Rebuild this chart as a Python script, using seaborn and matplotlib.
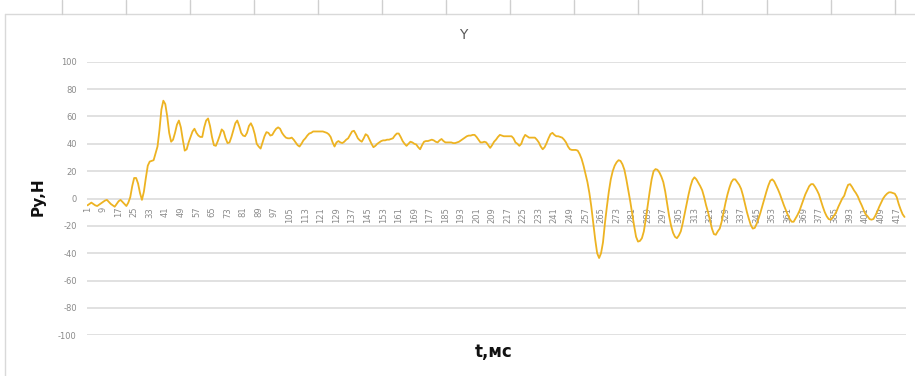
import matplotlib
matplotlib.use("Agg")
import matplotlib.pyplot as plt
from matplotlib.lines import Line2D
import pandas as pd
import seaborn as sns

# Lateral force Py (N) sampled every millisecond
py_values = [
    -5, -4, -3, -4, -5, -5.5, -4.5, -3.5, -2.5, -1.5,
    -1, -2.5, -4, -5, -6, -4, -2, -1, -2.5, -4,
    -5.5, -3, 1, 9, 15, 15, 11, 4, -1, 5,
    15, 24, 27, 27.5, 28, 33, 38, 50, 65, 71.5,
    69, 60, 48, 41.5, 43, 48, 54, 57, 52, 43,
    35, 36, 41, 45, 49, 51, 48, 46, 45, 45,
    52, 57, 58.5, 53, 45, 39, 38.5, 42, 46, 50.5,
    49, 44, 40.5, 41, 45, 50, 55, 57, 53, 48,
    46, 45.5, 48, 53, 55, 52, 47, 40, 38, 36.5,
    41, 45.5, 48.5, 48, 46, 46.5, 49, 51, 52, 51,
    48, 46, 44.5, 44, 44, 44.5, 43, 41, 39, 38,
    40, 42.5, 44, 46, 47.5, 48, 49, 49, 49, 49,
    49, 49, 48.5, 48, 47, 45, 41, 38, 41, 42,
    41, 40.5, 41.5, 43, 44, 46.5, 49, 49.5, 47, 44,
    42.5, 41.5, 44, 47, 46, 43, 40, 37.5, 38.5, 40,
    41, 42, 42.5, 42.5, 43, 43, 43.5, 44, 46, 47.5,
    47.5, 45, 42, 40, 38.5, 40, 41.5, 41, 40, 39.5,
    37.5, 36, 39, 41.5, 42, 42, 42.5, 43, 42.5, 41.5,
    41, 42.5, 43.5, 42, 41, 41, 41, 41, 40.5, 40.5,
    41, 41.5, 42.5, 43.5, 44.5, 45.5, 46, 46, 46.5, 46.5,
    45, 43, 41, 41, 41.5, 41, 39, 37, 39, 41.5,
    43, 45, 46.5, 46, 45.5, 45.5, 45.5, 45.5, 45.5, 44,
    41, 40, 38.5, 40, 44, 46.5, 45.5, 44.5, 44.5, 44.5,
    44.5, 43, 41, 38, 36, 37.5, 40.5, 44, 47, 48,
    46.5, 45.5, 45.5, 45, 44.5, 43, 41, 38, 36, 35.5,
    35.5, 35.5, 35, 32.5, 29, 24, 18, 12, 4, -6,
    -18, -30, -40, -43.5, -40, -32, -18, -6, 5, 14,
    20, 24, 26.5, 28, 27.5, 25, 21, 14, 6, -2,
    -11, -20, -28, -31.5, -31, -29, -24, -15, -5, 5,
    14, 20, 21.5, 21, 19, 16, 12, 5, -4, -13,
    -20, -25, -28, -29, -27, -24, -18, -11, -4, 3,
    9, 13.5, 15.5, 14, 11.5, 9, 6, 1, -5, -10,
    -16, -22, -26, -26.5, -24, -22, -17, -10, -3, 3,
    8, 12, 14, 14, 12, 10, 7, 2, -4, -10,
    -15, -19.5, -22, -21.5, -18.5, -14.5, -10, -5, 0, 5,
    9.5, 13, 14, 12.5, 9.5, 6.5, 3, -1, -5, -8.5,
    -12, -15, -17, -17, -14.5, -12, -9, -5, -1, 3,
    6, 9, 10.5, 10.5, 8.5, 6, 3, -1.5, -6, -10,
    -13, -15, -15.5, -14, -12, -9.5, -6, -3, 0, 2,
    6.5, 10, 10.5, 8.5, 6, 4, 1.5, -2, -5, -8.5,
    -11.5, -13, -15, -15.5, -15, -12.5, -9.5, -6, -3, 0,
    2, 3.5, 4.5, 4.5, 4, 3.5, 1, -4, -8, -11.5,
    -13.5,
]
t_ms = list(range(1, len(py_values) + 1))
x_tick_labels = t_ms[::8]
y_ticks = list(range(-100, 101, 20))

sns.set_theme(style="white")
plt.rcParams["font.family"] = ["DejaVu Sans"]
plt.rcParams["axes.unicode_minus"] = False

W, H = 915, 376
fig = plt.figure(figsize=(W / 100, H / 100), dpi=100)
fig.patch.set_facecolor("white")

left, right, top, bottom = 86.5, 905.5, 61.7, 335.3
ax = fig.add_axes([left / W, 1 - bottom / H, (right - left) / W, (bottom - top) / H])

df = pd.DataFrame({"t": t_ms, "Py": py_values})
sns.lineplot(data=df, x="t", y="Py", ax=ax, color="#EDB322", linewidth=1.3)

ax.set_xlim(0.5, len(py_values) + 0.5)
ax.set_ylim(-100, 100)
ax.set_yticks(y_ticks)
ax.yaxis.grid(True, color="#d9d9d9", linewidth=1.1)
ax.xaxis.grid(False)
ax.set_axisbelow(True)
for s in ax.spines.values():
    s.set_visible(False)
# category labels sit on the zero line
ax.spines["bottom"].set_position(("data", 0))
ax.set_xticks(x_tick_labels)
ax.set_xticklabels([str(v) for v in x_tick_labels], rotation=90,
                   fontsize=6, color="#8a8a8a", va="top")
ax.tick_params(axis="x", length=0, pad=6)
ax.tick_params(axis="y", length=0, pad=7, labelsize=6, labelcolor="#8a8a8a")
ax.set_xlabel("")
ax.set_ylabel("")

# titles
fig.text(463 / W, 1 - 35 / H, "Y", ha="center", va="center",
         fontsize=10, color="#595959")
fig.text(38 / W, 1 - 197 / H, "Py,H", ha="center", va="center",
         rotation=90, fontsize=11, fontweight="bold", color="#111111")
fig.text(494 / W, 1 - 352 / H, "t,мс", ha="center", va="center",
         fontsize=12, fontweight="bold", color="#111111")

# chart frame and the row of separators above it
def pline(x0, y0, x1, y1, color="#d9d9d9", lw=1.0):
    fig.add_artist(Line2D([x0 / W, x1 / W], [1 - y0 / H, 1 - y1 / H],
                          color=color, linewidth=lw))

pline(5, 14, W, 14)
pline(5, 14, 5, H)
for xs in [62, 126, 190, 254, 318, 382, 446, 510, 574, 638, 702, 767, 831, 895]:
    pline(xs, 0, xs, 14, color="#cfcfcf")

fig.savefig("out.png", dpi=100, facecolor="white")
